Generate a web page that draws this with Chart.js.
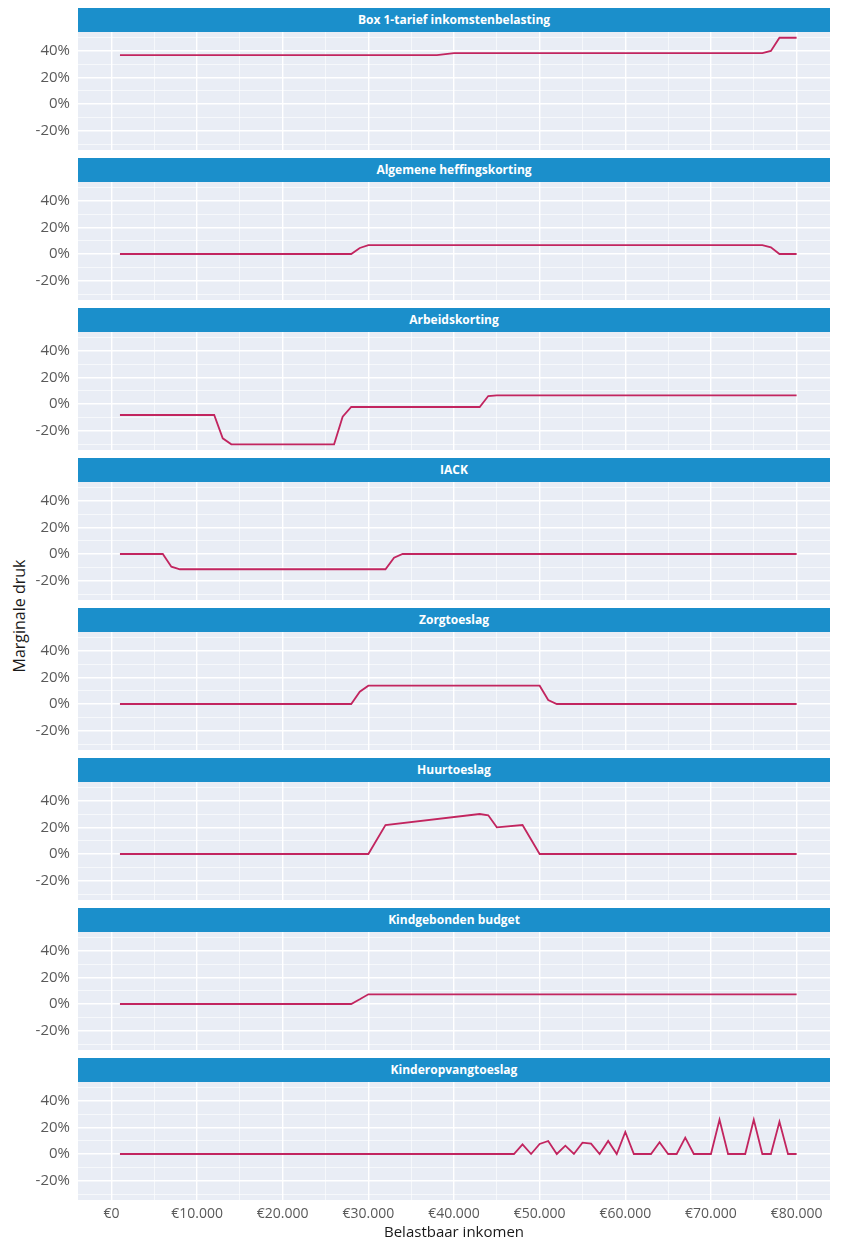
<!DOCTYPE html>
<html>
<head>
<meta charset="utf-8">
<script src="https://cdn.jsdelivr.net/npm/chart.js@4"></script>
<style>
  body { margin: 0; background: #fff; }
  #wrap { position: relative; width: 841px; height: 1244px; font-family: "Open Sans", sans-serif; }
  .strip { position: absolute; left: 78px; width: 752px; height: 24px; line-height: 24px;
           background: #1b8fcb; color: #fff; font-weight: bold; font-size: 12px; text-align: center; }
  .panel { position: absolute; left: 0; }
  #ytitle { position: absolute; left: -131px; top: 604px; width: 300px; height: 24px; line-height: 24px;
            text-align: center; font-size: 16px; color: #1a1a1a; transform: rotate(-90deg); }
</style>
</head>
<body>
<div id="wrap">
  <div id="ytitle">Marginale druk</div>
</div>
<script>
// titels van de panelen
const panelTitles = ['Box 1-tarief inkomstenbelasting', 'Algemene heffingskorting', 'Arbeidskorting', 'IACK',
  'Zorgtoeslag', 'Huurtoeslag', 'Kindgebonden budget', 'Kinderopvangtoeslag'];

// belastbaar inkomen (euro) en marginale druk (%) per regeling
const box1Inkomen = [1000, 38000, 39000, 40000, 76000, 77000, 78000, 80000];
const box1Druk = [36.65, 36.65, 37.4, 38.1, 38.1, 39.8, 49.7, 49.7];

const ahkInkomen = [1000, 28000, 29000, 30000, 76000, 77000, 78000, 80000];
const ahkDruk = [0, 0, 4.5, 6.6, 6.6, 5, 0, 0];

const akInkomen = [1000, 12000, 13000, 14000, 26000, 27000, 28000, 43000, 44000, 45000, 80000];
const akDruk = [-8.25, -8.25, -25.75, -30.25, -30.25, -9.5, -2.25, -2.25, 6, 6.5, 6.5];

const iackInkomen = [1000, 6000, 7000, 8000, 32000, 33000, 34000, 80000];
const iackDruk = [0, 0, -9.5, -11.45, -11.45, -2.75, 0, 0];

const zorgInkomen = [1000, 28000, 29000, 30000, 50000, 51000, 52000, 80000];
const zorgDruk = [0, 0, 9.25, 13.75, 13.75, 3, 0, 0];

const huurInkomen = [1000, 30000, 32000, 43000, 44000, 45000, 48000, 50000, 80000];
const huurDruk = [0, 0, 21.75, 30, 29, 20, 21.75, 0, 0];

const kgbInkomen = [1000, 28000, 29000, 30000, 80000];
const kgbDruk = [0, 0, 3.5, 7.25, 7.25];

const kotInkomen = [1000, 47000, 48000, 49000, 50000, 51000, 52000, 53000, 54000, 55000, 56000, 57000, 58000,
  59000, 60000, 61000, 63000, 64000, 65000, 66000, 67000, 68000, 70000, 71000, 72000, 74000, 75000, 76000,
  77000, 78000, 79000, 80000];
const kotDruk = [0, 0, 7.25, 0, 7.5, 9.75, 0, 6.25, 0, 8.5, 7.75, 0, 9.75, 0, 16.5, 0, 0, 8.75, 0, 0, 12.25,
  0, 0, 25.75, 0, 0, 25.75, 0, 0, 24.25, 0, 0];

const panelInkomen = [box1Inkomen, ahkInkomen, akInkomen, iackInkomen, zorgInkomen, huurInkomen, kgbInkomen, kotInkomen];
const panelDruk = [box1Druk, ahkDruk, akDruk, iackDruk, zorgDruk, huurDruk, kgbDruk, kotDruk];

// as-instellingen: hoofdticks met label, tussenliggende hulplijnen zonder label
const yTicks = [-20, 0, 20, 40];
const yMinorTicks = [-30, -10, 10, 30, 50];
const xTicks = [0, 10000, 20000, 30000, 40000, 50000, 60000, 70000, 80000];
const xMinorTicks = [5000, 15000, 25000, 35000, 45000, 55000, 65000, 75000];

function euro(v) {
  return '€' + String(v).replace(/\B(?=(\d{3})+(?!\d))/g, '.');
}

function tickList(major, minor) {
  return major.concat(minor).sort(function (a, b) { return a - b; }).map(function (v) { return { value: v }; });
}

const panelBg = {
  id: 'panelBg',
  beforeDraw(chart) {
    const { ctx, chartArea: a } = chart;
    ctx.save();
    ctx.fillStyle = '#e9edf5';
    ctx.fillRect(a.left, a.top, a.right - a.left, a.bottom - a.top);
    ctx.restore();
  }
};

const wrap = document.getElementById('wrap');

panelTitles.forEach(function (title, i) {
  const last = i === panelTitles.length - 1;
  const top = 8 + 150 * i;

  const strip = document.createElement('div');
  strip.className = 'strip';
  strip.style.top = top + 'px';
  strip.textContent = title;
  wrap.appendChild(strip);

  const box = document.createElement('div');
  box.className = 'panel';
  box.style.top = (top + 24) + 'px';
  const canvas = document.createElement('canvas');
  canvas.width = 841;
  canvas.height = last ? 162 : 118;
  box.appendChild(canvas);
  wrap.appendChild(box);

  new Chart(canvas.getContext('2d'), {
    type: 'line',
    data: {
      datasets: [{
        label: title,
        data: panelInkomen[i].map(function (x, k) { return { x: x, y: panelDruk[i][k] }; }),
        borderColor: '#c2255f',
        borderWidth: 1.8,
        pointRadius: 0,
        tension: 0,
        fill: false
      }]
    },
    options: {
      responsive: false,
      devicePixelRatio: 1,
      animation: false,
      layout: { padding: { left: 0, right: 11, top: 0, bottom: 0 } },
      plugins: { legend: { display: false }, tooltip: { enabled: false } },
      scales: {
        x: {
          type: 'linear',
          min: -3900,
          max: 83900,
          border: { display: false },
          grid: {
            color: '#ffffff',
            drawTicks: false,
            lineWidth: function (c) { return c.tick && xTicks.includes(c.tick.value) ? 1.4 : 0.6; }
          },
          afterBuildTicks: function (scale) { scale.ticks = tickList(xTicks, xMinorTicks); },
          ticks: {
            display: last,
            autoSkip: false,
            maxRotation: 0,
            minRotation: 0,
            padding: 6,
            color: '#595959',
            font: { family: 'Open Sans', size: 14 },
            callback: function (v) { return xTicks.includes(v) ? euro(v) : ''; }
          },
          title: {
            display: last,
            text: 'Belastbaar inkomen',
            color: '#1a1a1a',
            font: { family: 'Open Sans', size: 15 },
            padding: { top: 0, bottom: 2 }
          },
          afterFit: function (scale) {
            scale.height = last ? 44 : 0;
            scale.paddingLeft = 0;
            scale.paddingRight = 0;
          }
        },
        y: {
          type: 'linear',
          min: -34.5,
          max: 54,
          border: { display: false },
          grid: {
            color: '#ffffff',
            drawTicks: false,
            lineWidth: function (c) { return c.tick && yTicks.includes(c.tick.value) ? 1.4 : 0.6; }
          },
          afterBuildTicks: function (scale) { scale.ticks = tickList(yTicks, yMinorTicks); },
          ticks: {
            autoSkip: false,
            padding: 8,
            color: '#595959',
            font: { family: 'Open Sans', size: 15 },
            callback: function (v) { return yTicks.includes(v) ? v + '%' : ''; }
          },
          afterFit: function (scale) {
            scale.width = 78;
            scale.paddingTop = 0;
            scale.paddingBottom = 0;
          }
        }
      }
    },
    plugins: [panelBg]
  });
});
</script>
</body>
</html>
